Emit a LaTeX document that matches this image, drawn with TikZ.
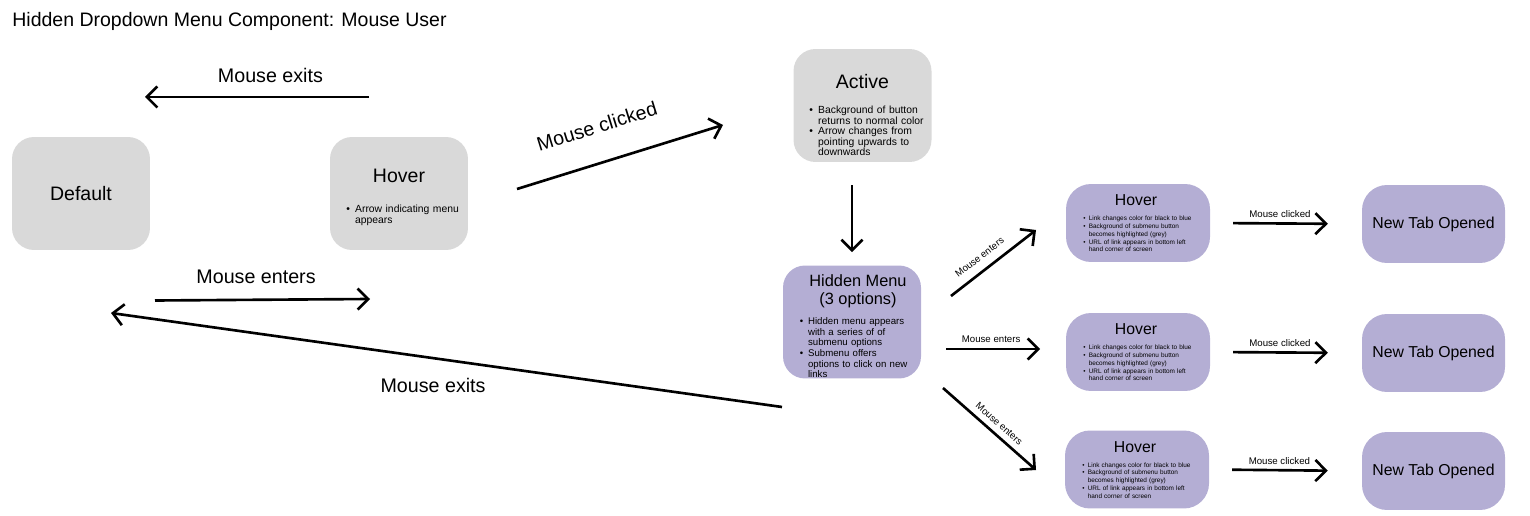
\documentclass[tikz,border=0pt]{standalone}
\usepackage{fontspec}
\setmainfont{Liberation Sans}
\usetikzlibrary{arrows.meta}
\definecolor{boxgray}{HTML}{D9D9D9}
\definecolor{boxlilac}{HTML}{B4AED4}
\newcommand{\itm}[1][0.85em]{\par\hangindent=#1\hangafter=1\noindent\makebox[#1][l]{\textbullet}}
\begin{document}
\begin{tikzpicture}[x=0.02cm,y=-0.02cm,
graybox/.style={fill=boxgray,rounded corners=0.44cm,minimum width=2.76cm,minimum height=2.26cm,inner sep=0},
lilacbox/.style={fill=boxlilac,rounded corners=0.5cm,minimum width=2.88cm,minimum height=1.56cm,inner sep=0},
bigtxt/.style={font=\fontsize{11.1}{13}\selectfont,inner sep=0},
midtxt/.style={font=\fontsize{9}{10.6}\selectfont,inner sep=0},
notes/.style={font=\fontsize{5.9}{5.95}\selectfont,inner sep=0,anchor=north west,text width=3cm,align=left},
subnotes/.style={font=\fontsize{3.65}{4.45}\selectfont,inner sep=0,anchor=north west,text width=3cm,align=left},
flow/.style={-{Straight Barb[length=6pt,width=12pt]},line width=1.5pt},
biglbl/.style={font=\fontsize{11.2}{13}\selectfont,inner sep=0},
smalllbl/.style={font=\fontsize{5.5}{6.5}\selectfont,inner sep=0}]
\useasboundingbox (0,0) rectangle (1530,516);
%boxes
\path (12,21.5) node(title)[bigtxt,anchor=west]{Hidden Dropdown Menu Component: Mouse User}
(81,193.5) node(def)[graybox,bigtxt]{Default}
(399,193.5) node(hov)[graybox]{}
(862.5,105.5) node(act)[graybox]{}
(852,322) node(hid)[graybox,fill=boxlilac]{}
(1138,223) node(sub1)[lilacbox]{}
(1138,352) node(sub2)[lilacbox]{}
(1137,469.5) node(sub3)[lilacbox]{}
(1433.5,224) node(tab1)[lilacbox,minimum width=2.86cm,midtxt]{New Tab Opened}
(1433.5,353) node(tab2)[lilacbox,minimum width=2.86cm,midtxt]{New Tab Opened}
(1433.5,471) node(tab3)[lilacbox,minimum width=2.86cm,midtxt]{New Tab Opened};
%texts in the boxes
\path (399,176) node(hovtitle)[bigtxt]{Hover}
(346,202) node(hovnotes)[notes]{\itm Arrow indicating menu\newline appears\par}
(862.5,81.5) node(acttitle)[bigtxt]{Active}
(809,103) node(actnotes)[notes]{\itm Background of button\newline returns to normal color
\itm Arrow changes from\newline pointing upwards to\newline downwards\par}
(858,291) node(hidtitle)[font=\fontsize{9.3}{10.4}\selectfont,inner sep=0,align=center]{Hidden Menu\\(3 options)}
(799.5,314) node(hidnotes)[notes,font=\fontsize{5.5}{6}\selectfont]{\itm Hidden menu appears\newline with a series of of\newline submenu options
\itm Submenu offers\newline options to click on new\newline links\par}
(1136,200) node(sub1title)[midtxt]{Hover}
(1083,212.5) node(sub1notes)[subnotes]{\itm Link changes color for black to blue
\itm Background of submenu button\newline becomes highlighted (grey)
\itm URL of link appears in bottom left\newline hand corner of screen\par}
(1136,329) node(sub2title)[midtxt]{Hover}
(1083,341.5) node(sub2notes)[subnotes]{\itm Link changes color for black to blue
\itm Background of submenu button\newline becomes highlighted (grey)
\itm URL of link appears in bottom left\newline hand corner of screen\par}
(1135,447) node(sub3title)[midtxt]{Hover}
(1082,459) node(sub3notes)[subnotes]{\itm Link changes color for black to blue
\itm Background of submenu button\newline becomes highlighted (grey)
\itm URL of link appears in bottom left\newline hand corner of screen\par};
%free ends
\coordinate (exitA) at (369,97);
\coordinate (exitB) at (145,97);
\coordinate (enterA) at (155,300.5);
\coordinate (enterB) at (370,299);
\coordinate (clickA) at (517,189);
\coordinate (clickB) at (723,125);
\coordinate (backA) at (782,407);
\coordinate (backB) at (111,313);
\coordinate (fanA1) at (951,296);
\coordinate (fanB1) at (1036,230);
\coordinate (fanA2) at (946,349);
\coordinate (fanB2) at (1040,349);
\coordinate (fanA3) at (943,388);
\coordinate (fanB3) at (1036,470);
%arrows
\draw[flow](exitA)--node[pos=.44,above=7.2pt,biglbl]{Mouse exits}(exitB);
\draw[flow](enterA)--node[pos=.47,above=8.4pt,biglbl]{Mouse enters}(enterB);
\draw[flow](clickA)--node[pos=.44,sloped,above=15.7pt,biglbl]{Mouse clicked}(clickB);
\draw[flow](backA)--node[pos=.52,below=10.6pt,biglbl]{Mouse exits}(backB);
\draw[flow,shorten <=13pt,shorten >=7.4pt](hid.north |- act.south)--(hid.north);
\draw[flow](fanA1)--node[pos=.43,sloped,above=4.8pt,smalllbl]{Mouse enters}(fanB1);
\draw[flow](fanA2)--node[pos=.48,above=3.1pt,smalllbl]{Mouse enters}(fanB2);
\draw[flow](fanA3)--node[pos=.53,sloped,above=3.2pt,smalllbl]{Mouse enters}(fanB3);
\draw[flow,shorten <=13pt,shorten >=19.3pt](sub1.east)--node[pos=.46,above=2.4pt,smalllbl]{Mouse clicked}(tab1.west);
\draw[flow,shorten <=13pt,shorten >=19.3pt](sub2.east)--node[pos=.46,above=2.4pt,smalllbl]{Mouse clicked}(tab2.west);
\draw[flow,shorten <=13pt,shorten >=19.3pt](sub3.east)--node[pos=.46,above=2.4pt,smalllbl]{Mouse clicked}(tab3.west);
\end{tikzpicture}
\end{document}
